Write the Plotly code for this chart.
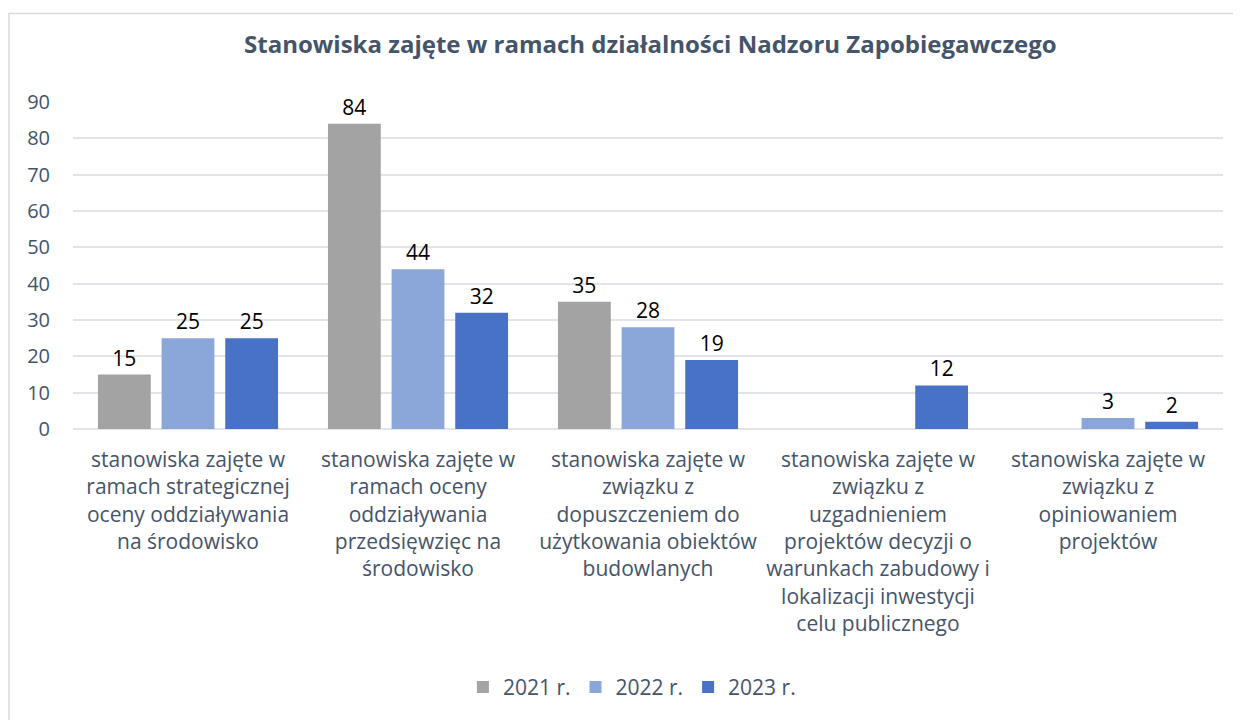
import plotly.graph_objects as go

# data
categories = [
    "stanowiska zajęte w<br>ramach strategicznej<br>oceny oddziaływania<br>na środowisko",
    "stanowiska zajęte w<br>ramach oceny<br>oddziaływania<br>przedsięwzięc na<br>środowisko",
    "stanowiska zajęte w<br>związku z<br>dopuszczeniem do<br>użytkowania obiektów<br>budowlanych",
    "stanowiska zajęte w<br>związku z<br>uzgadnieniem<br>projektów decyzji o<br>warunkach zabudowy i<br>lokalizacji inwestycji<br>celu publicznego",
    "stanowiska zajęte w<br>związku z<br>opiniowaniem<br>projektów",
]
series_names = ["2021 r.", "2022 r.", "2023 r."]
values_2021 = [15, 84, 35, None, None]
values_2022 = [25, 44, 28, None, 3]
values_2023 = [25, 32, 19, 12, 2]
y_ticks = [0, 10, 20, 30, 40, 50, 60, 70, 80, 90]

colors = ["#a3a3a3", "#8ba6d9", "#4872c6"]
font_family = "Open Sans"
text_color = "#44546a"

fig = go.Figure()

for name, vals, col in zip(series_names, [values_2021, values_2022, values_2023], colors):
    fig.add_trace(go.Bar(
        x=categories,
        y=vals,
        name=name,
        marker=dict(color=col, line=dict(width=0)),
        text=[("" if v is None else str(v)) for v in vals],
        textposition="outside",
        cliponaxis=False,
        textfont=dict(family=font_family, size=21, color="#000000"),
    ))

# page body has an 8px margin, so the figure is a bit smaller than the window
fig.update_layout(
    width=1233,
    height=712,
    margin=dict(l=65, r=18, t=94, b=281),
    paper_bgcolor="white",
    plot_bgcolor="white",
    barmode="group",
    bargap=0.17,
    bargroupgap=0.17,
    title=dict(
        text="<b>Stanowiska zajęte w ramach działalności Nadzoru Zapobiegawczego</b>",
        x=0.521, xanchor="center",
        y=0.948, yanchor="middle",
        font=dict(family=font_family, size=24, color=text_color),
    ),
    showlegend=True,
    legend=dict(
        orientation="h",
        x=0.486, xanchor="center",
        y=-0.79, yanchor="middle",
        font=dict(family=font_family, size=21, color=text_color),
        itemwidth=30,
        traceorder="normal",
    ),
    shapes=[dict(
        type="rect", xref="paper", yref="paper",
        x0=-0.0557, x1=1.2, y0=-1.5, y1=1.2705,
        line=dict(color="#d9d9d9", width=1.5),
        layer="below",
    )],
)

fig.update_xaxes(
    showline=False,
    ticks="",
    tickangle=0,
    ticklabelstandoff=16,
    tickfont=dict(family=font_family, size=21, color=text_color),
)

fig.update_yaxes(
    range=[0, 90],
    tickvals=y_ticks,
    showgrid=True,
    gridcolor="#e1e5ea",
    gridwidth=1.5,
    zeroline=True,
    zerolinecolor="#e1e5ea",
    zerolinewidth=1.5,
    ticks="",
    ticklabelstandoff=22,
    tickfont=dict(family=font_family, size=20, color=text_color),
)

fig.write_html("out.html")
